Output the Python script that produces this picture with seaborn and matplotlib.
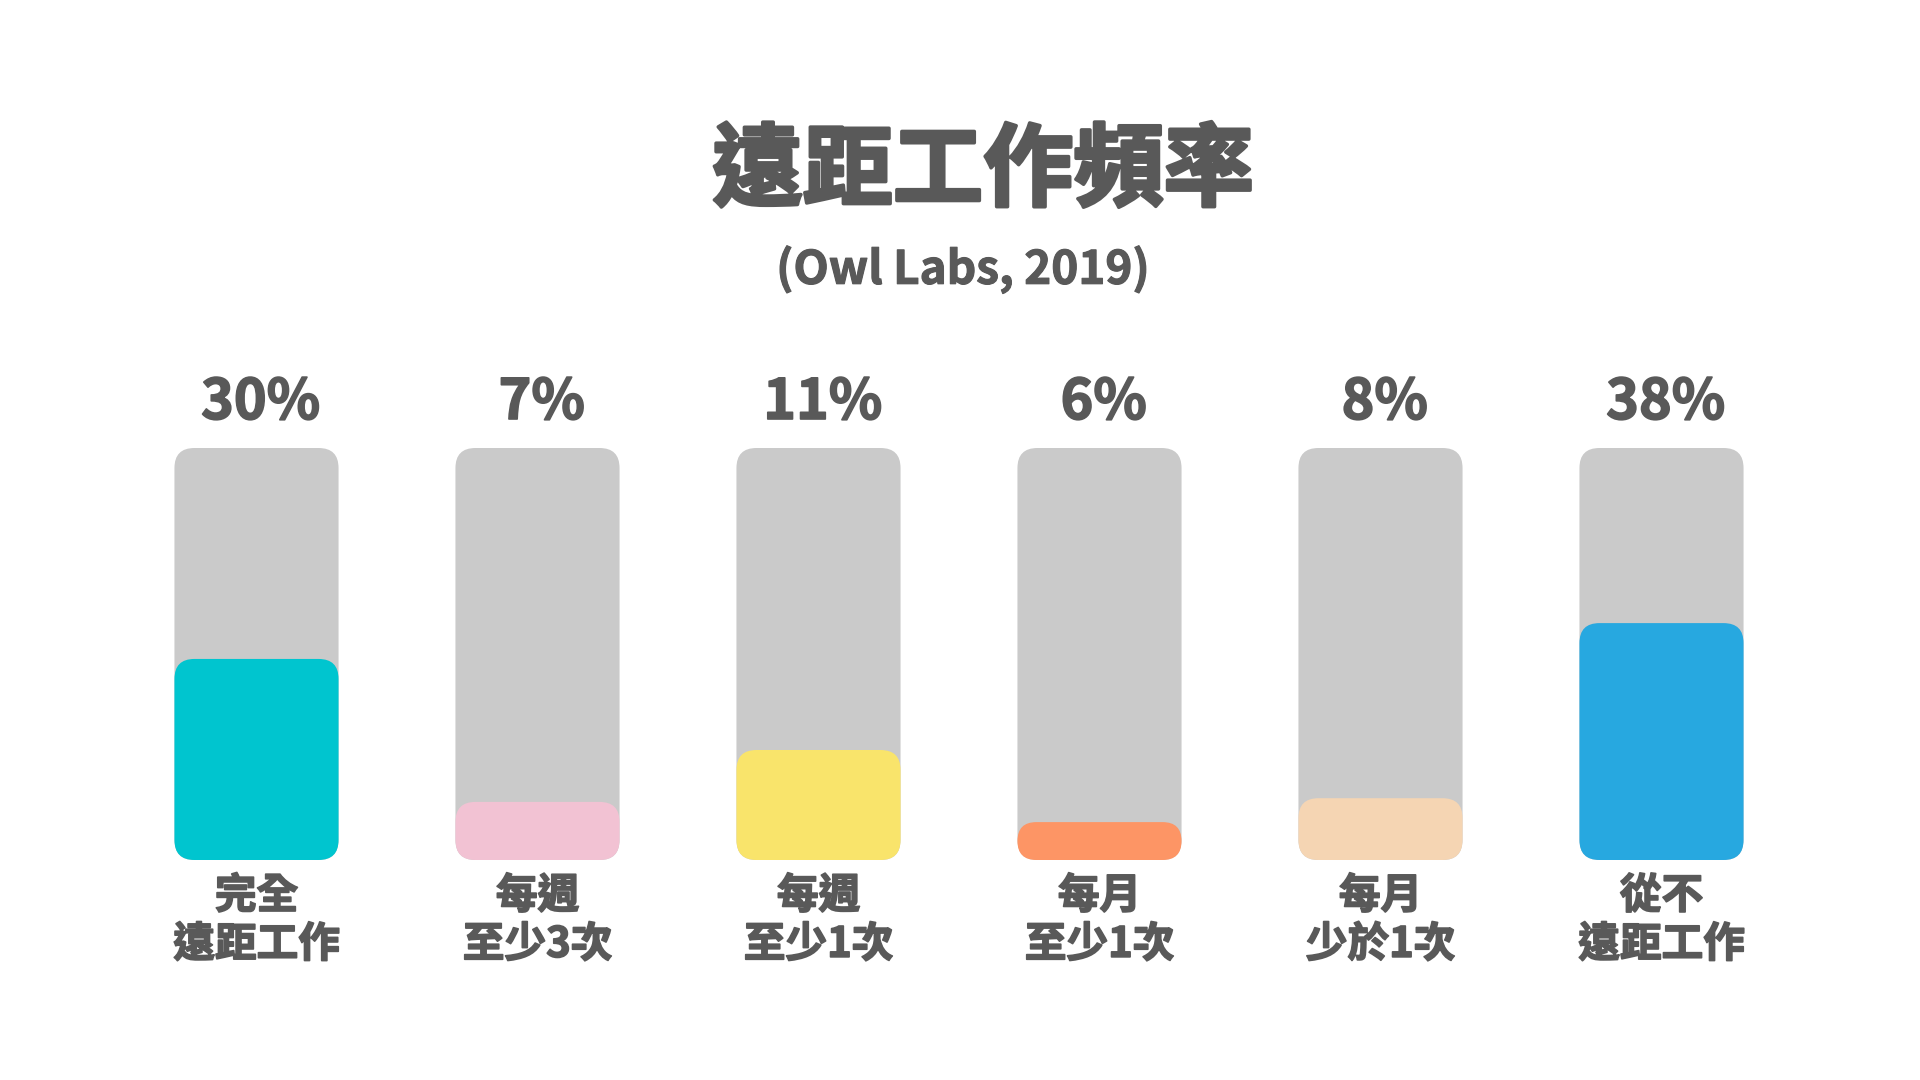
import numpy as np
import pandas as pd
import matplotlib
matplotlib.use("Agg")
import matplotlib.pyplot as plt
import matplotlib.patheffects as pe
import seaborn as sns
from matplotlib.patches import FancyBboxPatch

# ---------------- data ----------------
title = "遠距工作頻率"
subtitle = "(Owl Labs, 2019)"
categories = ["完全\n遠距工作", "每週\n至少3次", "每週\n至少1次",
              "每月\n至少1次", "每月\n少於1次", "從不\n遠距工作"]
percent_values = [30, 7, 11, 6, 8, 38]
# height of the coloured fill as drawn in the picture (% of the grey track)
fill_levels = [48.8, 14.1, 26.7, 9.2, 15.0, 57.5]
track_levels = [100, 100, 100, 100, 100, 100]
fill_colors = ["#00c5cf", "#f2c2d3", "#f9e46b", "#fd9565", "#f5d5b3", "#27a8e0"]
track_color = "#cacaca"
text_color = "#595959"

# ---------------- style ----------------
sns.set_theme(style="white")
plt.rcParams["font.family"] = ["Noto Sans CJK TC", "DejaVu Sans"]

fig = plt.figure(figsize=(19.2, 10.8), dpi=100)
fig.patch.set_facecolor("white")
ax = fig.add_axes([116 / 1920, 220 / 1080, 1686 / 1920, 412 / 1080])

df = pd.DataFrame({"cat": categories, "track": track_levels, "fill": fill_levels})
bar_w = 0.584
sns.barplot(data=df, x="cat", y="track", color=track_color, width=bar_w,
            saturation=1, errorbar=None, ax=ax)
sns.barplot(data=df, x="cat", y="fill", hue="cat", palette=fill_colors,
            width=bar_w, saturation=1, errorbar=None, legend=False, ax=ax)
ax.set_xlim(-0.5, 5.5)
ax.set_ylim(0, 100)

# replace the square bars with rounded ones
p0 = ax.transData.transform((0, 0))
p1 = ax.transData.transform((1, 1))
sx, sy = p1[0] - p0[0], p1[1] - p0[1]
radius_px = 20
for p in list(ax.patches):
    x, y = p.get_x(), p.get_y()
    w, h = p.get_width(), p.get_height()
    if not np.isfinite(h) or h <= 0:
        p.remove()
        continue
    fc = p.get_facecolor()
    z = p.get_zorder()
    p.remove()
    r_px = min(radius_px, h * sy / 2)
    rx = r_px / sx
    box = FancyBboxPatch((x, y), w, h,
                         boxstyle=f"round,pad=0,rounding_size={rx}",
                         mutation_aspect=sx / sy,
                         facecolor=fc, edgecolor="none", zorder=z)
    ax.add_patch(box)

thick = lambda lw: [pe.withStroke(linewidth=lw, foreground=text_color)]

# percent labels above the tracks
for i, v in enumerate(percent_values):
    ax.annotate(f"{v}%", xy=(i, 100), xytext=(3, 45 * 0.72),
                textcoords="offset points", ha="center", va="center",
                fontsize=40, fontweight="bold", color=text_color,
                path_effects=thick(1.2))

# category labels
ax.tick_params(axis="x", length=0, pad=11, labelsize=30, labelcolor=text_color)
for lbl in ax.get_xticklabels():
    lbl.set_fontweight("bold")
    lbl.set_linespacing(1.2)
    lbl.set_path_effects(thick(1.2))
ax.set_yticks([])
ax.set_xlabel("")
ax.set_ylabel("")
sns.despine(ax=ax, left=True, bottom=True)
ax.set_facecolor("none")

# titles
fig.text(983 / 1920, 1 - 172 / 1080, title, ha="center", va="center",
         fontsize=65, fontweight="black", color=text_color,
         path_effects=thick(2.5))
fig.text(963 / 1920, 1 - 270 / 1080, subtitle, ha="center", va="center",
         fontsize=33, fontweight="bold", color=text_color,
         path_effects=thick(0.8))

fig.savefig("out.png", dpi=100, facecolor="white")
